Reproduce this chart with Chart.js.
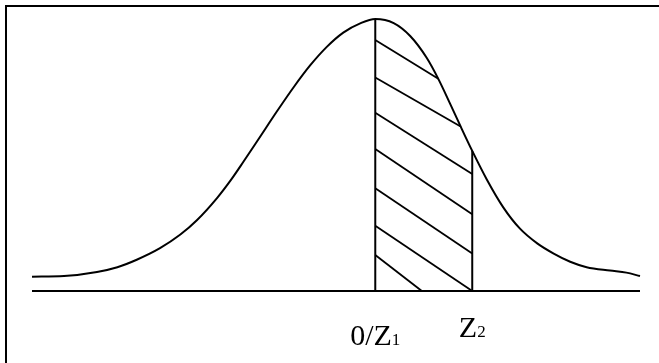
<!DOCTYPE html>
<html>
<head>
<meta charset="utf-8">
<script src="https://cdn.jsdelivr.net/npm/chart.js@4"></script>
<style>
  html, body { margin: 0; padding: 0; background: #fff; overflow: hidden; }
  #frame {
    position: absolute; left: 5px; top: 5px; width: 700px; height: 400px;
    border-top: 2px solid #000; border-left: 2px solid #000;
  }
  #wrap { position: absolute; left: 0; top: 0; width: 659px; height: 363px; }
</style>
</head>
<body>
<div id="frame"></div>
<div id="wrap"><canvas id="myChart"></canvas></div>
<script>
// Bell curve, x in z units (Z2 = 1), y as density
var curveX = [-3.54, -3.21, -2.87, -2.66, -2.46, -2.22, -2.01, -1.84, -1.63, -1.49, -1.36, -1.21,
    -1.01, -0.84, -0.67, -0.50, -0.33, -0.15, 0, 0.19, 0.36, 0.53, 0.65, 0.77, 0.88, 1.00,
    1.15, 1.32, 1.49, 1.67, 1.84, 2.01, 2.18, 2.42, 2.59, 2.73];
var curveY = [0.021, 0.022, 0.028, 0.035, 0.046, 0.063, 0.083, 0.104, 0.137, 0.163, 0.190, 0.222,
    0.265, 0.300, 0.332, 0.359, 0.380, 0.394, 0.400, 0.394, 0.375, 0.343, 0.312, 0.276, 0.242, 0.206,
    0.164, 0.123, 0.092, 0.070, 0.055, 0.043, 0.035, 0.030, 0.027, 0.022];

// Z1 and Z2 boundaries of the shaded area
var zValues = [0, 1];
var tickMain = ["0/Z", "Z"];
var tickSub = ["1", "2"];

// Hatch strokes: start on the Z1 line, end on the curve / Z2 line / baseline
var hatchStartY = [0.369, 0.314, 0.262, 0.209, 0.151, 0.096, 0.053];
var hatchEndX = [0.65, 0.88, 1, 1, 1, 1, 0.48];
var hatchEndY = [0.312, 0.242, 0.172, 0.113, 0.055, 0, 0];

var ink = '#000';

function lineSet(points, width) {
    return {
        data: points,
        borderColor: ink,
        borderWidth: width,
        pointRadius: 0,
        fill: false,
        clip: false
    };
}

var datasets = [];

// the curve itself
var curve = lineSet(curveX.map(function(x, i) { return { x: x, y: curveY[i] }; }), 2);
curve.cubicInterpolationMode = 'monotone';
datasets.push(curve);

// baseline
datasets.push(lineSet([{ x: curveX[0], y: 0 }, { x: curveX[curveX.length - 1], y: 0 }], 2));

// vertical lines at Z1 and Z2, up to the curve
zValues.forEach(function(z) {
    var top = curveY[curveX.indexOf(z)];
    datasets.push(lineSet([{ x: z, y: 0 }, { x: z, y: top }], 2));
});

// hatching
hatchStartY.forEach(function(y, i) {
    datasets.push(lineSet([{ x: 0, y: y }, { x: hatchEndX[i], y: hatchEndY[i] }], 1.8));
});

// Z labels with subscripts under the baseline
var zLabels = {
    id: 'zLabels',
    afterDraw: function(chart, args, opts) {
        var c = chart.ctx;
        var base = chart.scales.y.getPixelForValue(0);
        c.save();
        c.fillStyle = ink;
        c.textBaseline = 'alphabetic';
        zValues.forEach(function(z, i) {
            c.font = opts.mainSize + 'px "Liberation Serif"';
            var w1 = c.measureText(tickMain[i]).width;
            c.font = opts.subSize + 'px "Liberation Serif"';
            var w2 = c.measureText(tickSub[i]).width;
            var x = chart.scales.x.getPixelForValue(z) - (w1 + w2) / 2;
            var y = base + opts.drop[i];
            c.font = opts.mainSize + 'px "Liberation Serif"';
            c.fillText(tickMain[i], x, y);
            c.font = opts.subSize + 'px "Liberation Serif"';
            c.fillText(tickSub[i], x + w1, y);
        });
        c.restore();
    }
};

window.addEventListener('load', function() {
    var ctx = document.getElementById('myChart').getContext('2d');
    var myChart = new Chart(ctx, {
        type: 'line',
        data: { datasets: datasets },
        options: {
            responsive: true,
            maintainAspectRatio: false,
            animation: false,
            layout: { padding: { left: 32, right: 19, top: 19, bottom: 72 } },
            scales: {
                x: { type: 'linear', min: curveX[0], max: curveX[curveX.length - 1], display: false },
                y: { min: 0, max: 0.4, display: false }
            },
            plugins: {
                legend: { display: false },
                tooltip: { enabled: false },
                zLabels: { mainSize: 30, subSize: 17, drop: [54, 46] }
            }
        },
        plugins: [zLabels]
    });
});
</script>
</body>
</html>
